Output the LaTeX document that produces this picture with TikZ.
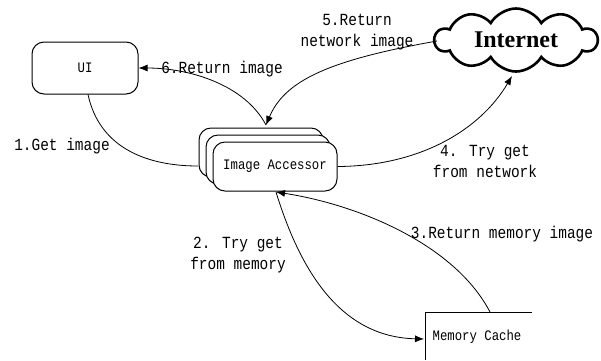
\documentclass[tikz,border=0pt]{standalone}
\usepackage{fontspec}
\usetikzlibrary{shapes.symbols,arrows.meta}
\newfontfamily\monofnt[FakeStretch=0.85]{Liberation Mono}
\newfontfamily\cloudfnt{Liberation Serif}
\begin{document}
\begin{tikzpicture}[x=1pt,y=-1pt,
  lbl/.style={font=\monofnt\fontsize{17}{21}\selectfont, align=center, inner sep=0pt},
  boxtxt/.style={font=\monofnt\fontsize{14.5}{17}\selectfont},
  rbox/.style={draw, line width=1pt, rounded corners=12pt, fill=white, minimum width=124pt, minimum height=49pt, inner sep=0pt},
  conn/.style={line width=0.8pt},
  arr/.style={line width=0.8pt, -{Latex[length=9pt,width=7pt]}}]
\useasboundingbox[fill=white] (0,0) rectangle (601,360);
% UI
\node[draw, line width=1pt, rounded corners=12pt, minimum width=106pt, minimum height=52pt, boxtxt] (ui) at (85,68) {UI};
% Image accessor stack
\node[rbox] (ia3) at (261,152.5) {};
\node[rbox] (ia2) at (268,159.5) {};
\node[rbox, boxtxt] (ia) at (275,166.5) {Image Accessor};
\coordinate (iat) at (266,125);
\coordinate (iab) at (276,192);
\coordinate (ial) at (198,166);
% Internet
\node[cloud, draw, line width=2.6pt, cloud puffs=10, cloud puff arc=120, aspect=2.7, inner sep=0pt, minimum width=162pt, minimum height=60pt, font=\cloudfnt\bfseries\fontsize{24}{28}\selectfont] (net) at (516,40) {Internet};
\coordinate (netl) at (437,41);
\coordinate (netb) at (512,76);
% Memory cache
\node[boxtxt, inner sep=0pt] (mc) at (477,337) {Memory Cache};
\coordinate (mctl) at (425,312);
\coordinate (mcl) at (424,339);
\coordinate (mct) at (490,312);
\draw[line width=1pt] (mctl -| mc.east) ++(10,0) -- (mctl) -- (mctl |- 0,360);
% connectors
\draw[conn] (ui.south) ++(3,0) .. controls (100,150) and (150,166) .. (ial);
\draw[arr] (iat) .. controls (245,85) and (190,68) .. (ui.east);
\draw[arr] (netl) .. controls (330,60) and (285,80) .. (iat);
\draw[arr] (ia.east) .. controls (420,166) and (480,130) .. (netb);
\draw[arr] (iab) .. controls (300,270) and (340,337) .. (mcl);
\draw[arr] (mct) .. controls (455,245) and (360,205) .. (iab);
% labels
\node[lbl] (l1) at (62,146) {1.Get image};
\node[lbl] (l6) at (222,69) {6.Return image};
\node[lbl] (l5) at (357,32) {5.Return\\network image};
\node[lbl] (l4) at (485,161) {4. Try get\\from network};
\node[lbl] (l2) at (238,255) {2. Try get\\from memory};
\node[lbl] (l3) at (502,234) {3.Return memory image};
\end{tikzpicture}
\end{document}
